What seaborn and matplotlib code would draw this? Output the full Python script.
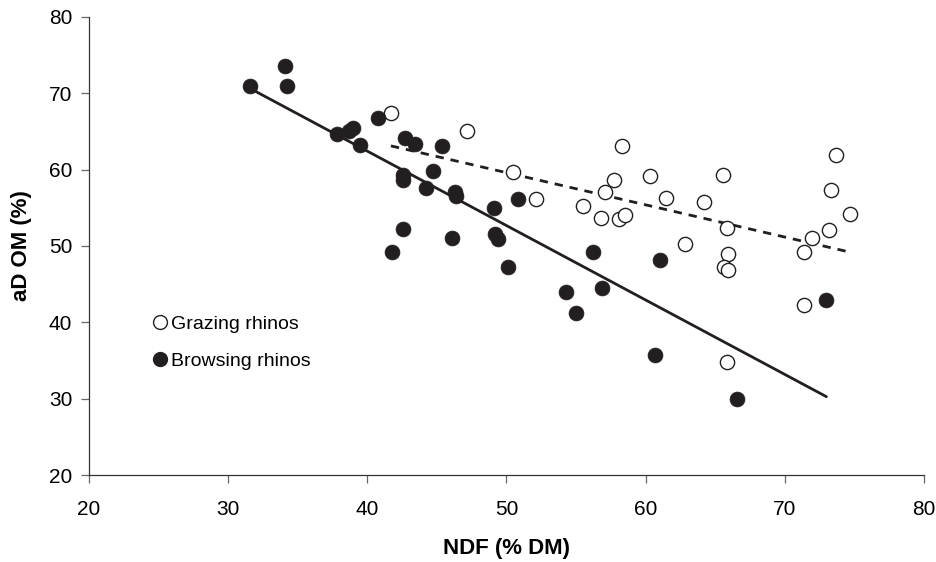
import matplotlib
matplotlib.use("Agg")
import matplotlib.pyplot as plt
import numpy as np
import pandas as pd
import seaborn as sns
from matplotlib.lines import Line2D

# NDF (% DM) vs apparent digestibility of organic matter
browse_ndf = [31.6, 34.05, 34.2, 37.8, 38.7, 38.97, 39.5, 40.8, 42.7, 43.45,
              45.4, 42.6, 42.6, 44.7, 44.2, 46.3, 46.4, 49.1, 50.8, 42.6,
              41.8, 46.1, 49.2, 49.4, 50.1, 56.2, 56.9, 54.3, 55.0, 61.05,
              60.65, 66.6, 73.0]
browse_adom = [71.0, 73.5, 70.9, 64.7, 65.0, 65.5, 63.2, 66.7, 64.2, 63.3,
               63.1, 59.3, 58.6, 59.8, 57.6, 57.0, 56.6, 55.0, 56.2, 52.2,
               49.2, 51.1, 51.6, 50.9, 47.3, 49.2, 44.5, 44.0, 41.2, 48.1,
               35.7, 29.9, 42.9]

graze_ndf = [41.7, 47.2, 50.5, 52.1, 55.5, 56.8, 58.1, 58.5, 57.1, 57.7,
             58.3, 60.3, 61.5, 64.2, 65.6, 65.85, 65.9, 65.65, 65.9, 62.8,
             71.95, 71.4, 73.2, 73.3, 73.7, 74.7, 71.4, 65.85]
graze_adom = [67.4, 65.0, 59.7, 56.2, 55.2, 53.6, 53.5, 54.1, 57.0, 58.7,
              63.1, 59.2, 56.3, 55.7, 59.3, 52.4, 48.9, 47.3, 46.9, 50.3,
              51.1, 49.2, 52.1, 57.3, 61.9, 54.2, 42.2, 34.8]

browse = pd.DataFrame({'NDF': browse_ndf, 'aDOM': browse_adom})
graze = pd.DataFrame({'NDF': graze_ndf, 'aDOM': graze_adom})

ink = '#231f20'

sns.set_style('ticks')
plt.rcParams['font.family'] = ['Liberation Sans', 'DejaVu Sans']
plt.rcParams['text.color'] = 'black'
plt.rcParams['axes.labelcolor'] = 'black'

fig, ax = plt.subplots(figsize=(9.36, 5.62), dpi=100)
fig.subplots_adjust(left=0.0951, right=0.987, top=0.970, bottom=0.1548)

# regression lines (fit over each group's range)
sns.regplot(data=browse, x='NDF', y='aDOM', ax=ax, scatter=False, ci=None,
            truncate=True, line_kws=dict(color=ink, lw=2.0))
sns.regplot(data=graze, x='NDF', y='aDOM', ax=ax, scatter=False, ci=None,
            truncate=True, line_kws=dict(color=ink, lw=2.0, ls=(0, (3, 2.5))))

# points
sns.scatterplot(data=graze, x='NDF', y='aDOM', ax=ax, s=105, marker='o',
                facecolor='white', edgecolor=ink, linewidth=1.0, zorder=3)
sns.scatterplot(data=browse, x='NDF', y='aDOM', ax=ax, s=115, marker='o',
                color=ink, edgecolor=ink, linewidth=0.5, zorder=4)

ax.set_xlim(20, 80)
ax.set_ylim(20, 80)
ax.set_xticks(np.arange(20, 81, 10))
ax.set_yticks(np.arange(20, 81, 10))
ax.tick_params(axis='both', labelsize=15, length=6, width=0.9, color='#666666',
               labelcolor='black', direction='out')
ax.tick_params(axis='x', pad=12)
ax.tick_params(axis='y', pad=6)
for s in ['left', 'bottom']:
    ax.spines[s].set_linewidth(0.9)
    ax.spines[s].set_color('#333333')
sns.despine(ax=ax)

ax.set_xlabel('NDF (% DM)', fontsize=16, fontweight='bold', labelpad=14)
ax.set_ylabel('aD OM (%)', fontsize=16, fontweight='bold', labelpad=12)

handles = [
    Line2D([], [], marker='o', ls='none', markersize=10, markerfacecolor='white',
           markeredgecolor=ink, markeredgewidth=1.0, label='Grazing rhinos'),
    Line2D([], [], marker='o', ls='none', markersize=10, markerfacecolor=ink,
           markeredgecolor=ink, label='Browsing rhinos'),
]
ax.legend(handles=handles, loc='upper left', bbox_to_anchor=(0.06, 0.378),
          frameon=False, fontsize=14, handlelength=0.8, handletextpad=0.15,
          labelspacing=1.0, borderpad=0.2)

fig.savefig('out.png', dpi=100)
